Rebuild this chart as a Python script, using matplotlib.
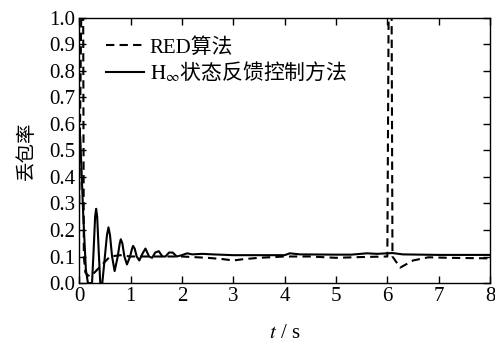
import matplotlib
matplotlib.use("Agg")
import matplotlib.pyplot as plt

plt.rcParams['font.family'] = ['Liberation Serif', 'Noto Sans CJK SC']
plt.rcParams['mathtext.fontset'] = 'stix'

# RED 算法（虚线）
t_red = [0.0, 0.05, 0.075, 0.09, 0.12, 0.16, 0.22, 0.3, 0.4, 0.5, 0.6, 0.8, 1.0, 1.5,
         2.0, 2.5, 2.8, 3.0, 3.2, 3.5, 4.0, 4.5, 5.0, 5.5, 6.0, 6.03, 6.08, 6.1,
         6.25, 6.5, 6.8, 7.2, 8.0]
p_red = [0.3, 1.2, 1.2, 0.1, 0.04, 0.03, 0.025, 0.04, 0.06, 0.08, 0.1, 0.105, 0.1, 0.1,
         0.1, 0.095, 0.09, 0.085, 0.09, 0.095, 0.1, 0.1, 0.095, 0.098, 0.1, 1.2, 1.2, 0.1,
         0.058, 0.085, 0.097, 0.095, 0.093]

# H∞ 状态反馈控制方法（实线）
t_hinf = [0.0, 0.02, 0.08, 0.13, 0.17, 0.25, 0.28, 0.31, 0.33, 0.35, 0.38, 0.41, 0.45,
          0.5, 0.54, 0.57, 0.6, 0.64, 0.69, 0.75, 0.79, 0.81, 0.84, 0.88, 0.93, 0.99,
          1.03, 1.05, 1.08, 1.12, 1.17, 1.23, 1.29, 1.36, 1.42, 1.48, 1.55, 1.62, 1.68,
          1.75, 1.82, 1.9, 2.0, 2.1, 2.2, 2.4, 2.6, 3.0, 3.5, 4.0, 4.1, 4.3, 5.0, 5.3,
          5.6, 5.8, 6.1, 6.3, 7.0, 8.0]
p_hinf = [0.58, 0.55, 0.25, 0.05, 0.0, 0.0, 0.12, 0.25, 0.28, 0.25, 0.12, 0.0, 0.0,
          0.1, 0.18, 0.21, 0.18, 0.1, 0.045, 0.1, 0.15, 0.165, 0.15, 0.1, 0.07, 0.1,
          0.13, 0.14, 0.13, 0.1, 0.085, 0.11, 0.13, 0.1, 0.095, 0.115, 0.12, 0.1, 0.1,
          0.115, 0.115, 0.1, 0.105, 0.112, 0.108, 0.11, 0.108, 0.105, 0.105, 0.105,
          0.112, 0.108, 0.107, 0.107, 0.112, 0.11, 0.113, 0.108, 0.106, 0.106]

fig = plt.figure(figsize=(4.95, 3.42), dpi=100)
ax = fig.add_axes([0.16, 0.1725, 0.83, 0.775])

ax.plot(t_red, p_red, 'k--', lw=1.5, dashes=(4, 2.5), label='RED算法')
ax.plot(t_hinf, p_hinf, 'k-', lw=1.5, label='$\\mathrm{H}_{\\infty}$状态反馈控制方法')

ax.set_xlim(0, 8)
ax.set_ylim(0, 1.0)
ax.set_xticks(range(0, 9))
ax.set_yticks([i / 10 for i in range(11)])
ax.set_yticklabels([f'{i / 10:.1f}' for i in range(11)])
ax.tick_params(direction='in', top=True, right=True, labelsize=15, length=5, width=1, pad=3)
for s in ax.spines.values():
    s.set_linewidth(1)

ax.set_xlabel('$t$ / s', fontsize=15, labelpad=13)
ax.set_ylabel('丢包率', fontsize=14, family='Noto Sans CJK SC', labelpad=9)

leg = ax.legend(loc='upper left', frameon=False, fontsize=15, handlelength=1.8,
                handletextpad=0.3, borderaxespad=0.3, labelspacing=0.12,
                bbox_to_anchor=(0.03, 0.98))
# 含公式的图例文字：非公式部分用中文字体
leg.get_texts()[1].set_fontfamily('Noto Sans CJK SC')

fig.savefig('out.png', dpi=100)
